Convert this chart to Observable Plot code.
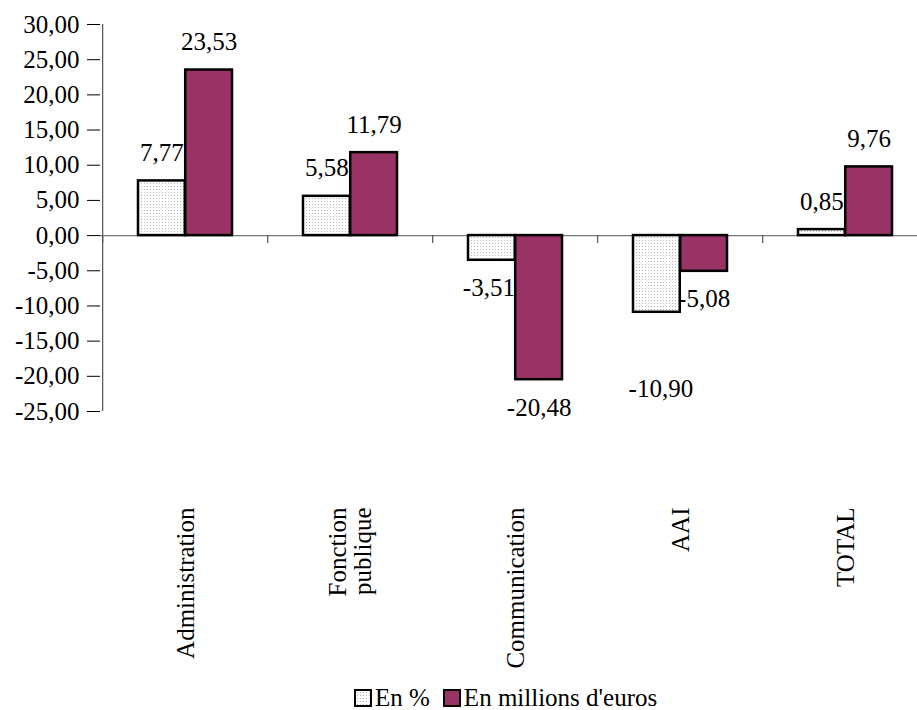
<!DOCTYPE html>
<html>
<head>
<meta charset="utf-8">
<script src="https://cdn.jsdelivr.net/npm/d3@7"></script>
<script src="https://cdn.jsdelivr.net/npm/@observablehq/plot@0.6"></script>
<style>
  html, body { font-family: 'Liberation Serif'; }
  body { margin: 0; background: #fff; overflow: hidden; }
  #legend { display: flex; align-items: center; height: 25px; line-height: 25px; font-size: 25px; padding-left: 354px; color: #000; font-family: 'Liberation Serif'; }
  #legend .sw { width: 14px; height: 14px; border: 2px solid #000; margin-right: 3px; box-sizing: content-box; }
  #legend .item { display: flex; align-items: center; margin-right: 13px; }
</style>
</head>
<body>
<div id="chart" style="font-family:'Liberation Serif'"></div>
<div id="legend"></div>
<script>
// Variation by budget line
const categories = ["Administration", "Fonction\npublique", "Communication", "AAI", "TOTAL"];
const enPourcent = [7.77, 5.58, -3.51, -10.90, 0.85];
const enMillions = [23.53, 11.79, -20.48, -5.08, 9.76];
const yTicks = [30, 25, 20, 15, 10, 5, 0, -5, -10, -15, -20, -25];
const seriesNames = ["En %", "En millions d'euros"];
const seriesColors = ["url(#stipple)", "#993366"];

const rows = categories.map((category, i) => ({category, pct: enPourcent[i], mil: enMillions[i]}));
const fmt = (v) => v.toFixed(2).replace(".", ",");

// Layout
const W = 917, H = 685;
const mLeft = 100, mRight = -13, mTop = 24, mBottom = H - 411;
const padIn = 0.43, padOut = 0.22;
const step = (W - mRight - mLeft) / (categories.length - padIn + 2 * padOut);
const half = step * (1 - padIn) / 2;   // width of one bar in a pair
const fs = 25;
const face = "Liberation Serif";

const chart = Plot.plot({
  width: W, height: H, marginLeft: mLeft, marginRight: mRight, marginTop: mTop, marginBottom: mBottom,
  style: {fontFamily: face, fontSize: fs + "px", color: "#000", background: "#fff"},
  x: {domain: categories, paddingInner: padIn, paddingOuter: padOut, axis: null},
  y: {domain: [-25, 30], axis: null},
  marks: [
    // y axis with its line at the left edge of the first category
    Plot.axisY({ticks: yTicks, tickFormat: fmt, tickSize: 13, tickPadding: 8, fontSize: fs, fontFamily: face, label: null, stroke: "#000"}),
    Plot.ruleX([categories[0]], {x: (d) => d, dx: -step / 2, y1: -25, y2: 30, stroke: "#555", strokeWidth: 1.2}),
    // zero baseline and category separator ticks
    Plot.ruleY([0], {stroke: "#777", strokeWidth: 1.2}),
    Plot.ruleX(categories, {x: (d) => d, dx: -step / 2, y1: 0, y2: 0, insetBottom: -8, stroke: "#555", strokeWidth: 1.2}),
    // bars
    Plot.barY(rows, {x: "category", y: "pct", fill: seriesColors[0], stroke: "#000", strokeWidth: 2.5, insetRight: half}),
    Plot.barY(rows, {x: "category", y: "mil", fill: seriesColors[1], stroke: "#000", strokeWidth: 2.5, insetLeft: half}),
    // value labels
    Plot.text(rows, {filter: (d) => d.pct >= 0, x: "category", y: "pct", text: (d) => fmt(d.pct), dx: -half / 2, dy: -28, fontSize: fs, fontFamily: face, fill: "#000"}),
    Plot.text(rows, {filter: (d) => d.pct < 0 && d.category !== "AAI", x: "category", y: "pct", text: (d) => fmt(d.pct), dx: -half / 2 - 3, dy: 28, fontSize: fs, fontFamily: face, fill: "#000"}),
    // the AAI label sits lower, clear of its neighbour
    Plot.text(rows, {filter: (d) => d.category === "AAI", x: "category", y: "pct", text: (d) => fmt(d.pct), dx: -half / 2 + 4, dy: 77, fontSize: fs, fontFamily: face, fill: "#000"}),
    Plot.text(rows, {filter: (d) => d.mil >= 0, x: "category", y: "mil", text: (d) => fmt(d.mil), dx: half / 2, dy: -28, fontSize: fs, fontFamily: face, fill: "#000"}),
    Plot.text(rows, {filter: (d) => d.mil < 0, x: "category", y: "mil", text: (d) => fmt(d.mil), dx: half / 2, dy: 28, fontSize: fs, fontFamily: face, fill: "#000"}),
    // rotated category labels under the plot
    Plot.text(categories, {x: (d) => d, frameAnchor: "bottom", text: (d) => d, rotate: -90, textAnchor: "end", lineAnchor: "middle", dy: 96, fontSize: fs, fontFamily: face, fill: "#000"})
  ]
});

// dotted fill for the percentage bars
const defs = d3.select(chart).insert("defs", ":first-child");
const pat = defs.append("pattern").attr("id", "stipple").attr("width", 3).attr("height", 3).attr("patternUnits", "userSpaceOnUse");
pat.append("rect").attr("width", 3).attr("height", 3).attr("fill", "#fff");
pat.append("rect").attr("width", 1).attr("height", 1).attr("fill", "#b5b5b5");

d3.select(chart).attr("font-family", face).selectAll("text").style("font-family", "'Liberation Serif'");

document.getElementById("chart").appendChild(chart);

// legend
const legend = d3.select("#legend");
seriesNames.forEach((name, i) => {
  const item = legend.append("div").attr("class", "item");
  const sw = item.append("div").attr("class", "sw");
  if (i === 0) {
    sw.style("background-color", "#fff")
      .style("background-image", "radial-gradient(#b5b5b5 0.6px, transparent 0.8px)")
      .style("background-size", "3px 3px");
  } else {
    sw.style("background", seriesColors[i]);
  }
  item.append("span").style("font-family", "'Liberation Serif'").text(name);
});
</script>
</body>
</html>
